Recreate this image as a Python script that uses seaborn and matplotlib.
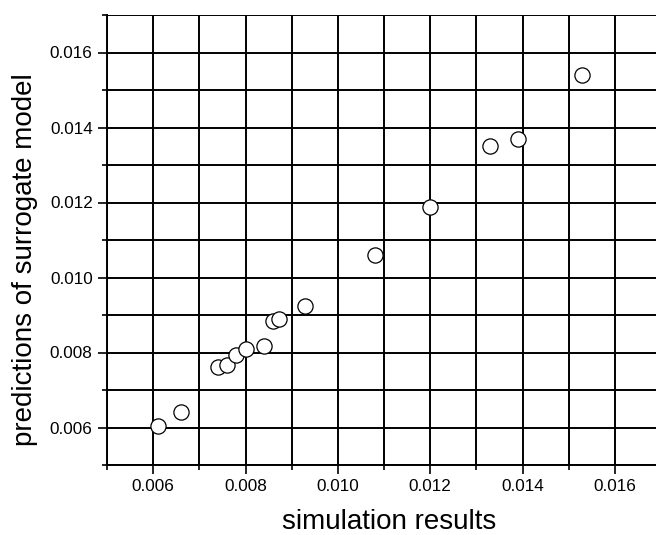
import matplotlib
matplotlib.use("Agg")
import matplotlib.pyplot as plt
import seaborn as sns
import pandas as pd
from matplotlib.ticker import MultipleLocator, FormatStrFormatter

simulation = [0.00610, 0.00660, 0.00740, 0.00760, 0.00780, 0.00800, 0.00839,
              0.00859, 0.00872, 0.00929, 0.01080, 0.01200, 0.01329, 0.01390, 0.01529]
prediction = [0.00603, 0.00641, 0.00761, 0.00766, 0.00793, 0.00810, 0.00818,
              0.00883, 0.00889, 0.00924, 0.01061, 0.01189, 0.01351, 0.01370, 0.01540]

df = pd.DataFrame({"simulation results": simulation,
                   "predictions of surrogate model": prediction})

sns.set_style("white")
plt.rcParams["font.family"] = ["Liberation Sans", "DejaVu Sans"]
for key in ["text.color", "axes.labelcolor", "xtick.color", "ytick.color", "axes.edgecolor"]:
    plt.rcParams[key] = "black"

fig = plt.figure(figsize=(6.56, 5.35), dpi=100)
ax = fig.add_axes([107 / 656, 70 / 535, 554 / 656, 450 / 535])

ax.set_axisbelow(True)
sns.scatterplot(data=df, x="simulation results", y="predictions of surrogate model",
                ax=ax, s=120, color="white", edgecolor="black", linewidth=0.9,
                zorder=3, clip_on=False)

ax.set_xlim(0.005, 0.017)
ax.set_ylim(0.005, 0.017)
ax.xaxis.set_major_locator(MultipleLocator(0.002))
ax.xaxis.set_minor_locator(MultipleLocator(0.001))
ax.yaxis.set_major_locator(MultipleLocator(0.002))
ax.yaxis.set_minor_locator(MultipleLocator(0.001))
ax.xaxis.set_major_formatter(FormatStrFormatter("%.3f"))
ax.yaxis.set_major_formatter(FormatStrFormatter("%.3f"))
ax.grid(which="both", color="black", linewidth=1.4)

ax.tick_params(axis="both", which="major", direction="out", length=6.8, width=1.2,
               color="black", labelcolor="black", labelsize=12.3, pad=3.5,
               bottom=True, left=True)
ax.tick_params(axis="both", which="minor", direction="out", length=3.4, width=1.2,
               color="black", bottom=True, left=True)

for side in ["top", "right"]:
    ax.spines[side].set_visible(False)
for side in ["left", "bottom"]:
    ax.spines[side].set_visible(True)
    ax.spines[side].set_color("black")
    ax.spines[side].set_linewidth(1.4)

ax.set_xlabel("simulation results", fontsize=20, color="black")
ax.set_ylabel("predictions of surrogate model", fontsize=20, color="black")
ax.xaxis.set_label_coords(0.509, -0.097)
ax.yaxis.set_label_coords(-0.125, 0.456)

fig.savefig("out.png", dpi=100)
